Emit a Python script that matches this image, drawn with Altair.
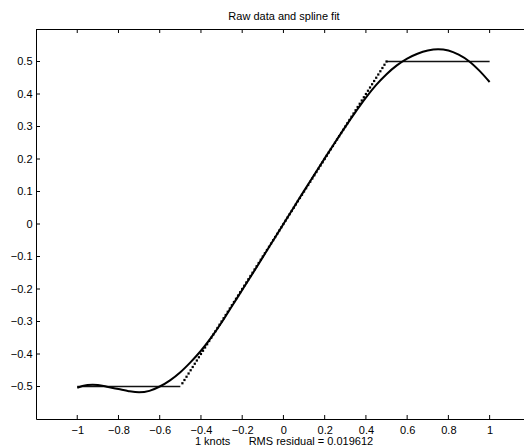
import altair as alt
import pandas as pd

# ---------------- data ----------------
title_text = "Raw data and spline fit"
xlabel_text = "1 knots\u00a0\u00a0\u00a0\u00a0\u00a0\u00a0RMS residual = 0.019612"

x_ticks = [-1, -0.8, -0.6, -0.4, -0.2, 0, 0.2, 0.4, 0.6, 0.8, 1]
y_ticks = [-0.5, -0.4, -0.3, -0.2, -0.1, 0, 0.1, 0.2, 0.3, 0.4, 0.5]

# raw data: flat parts (drawn solid) and the ramp samples (drawn as dots)
flat_x = [-1.0, -0.5, 0.5, 1.0]
flat_y = [-0.5, -0.5, 0.5, 0.5]
flat_seg = ["low", "low", "high", "high"]

ramp_x = [-0.49, -0.48, -0.47, -0.46, -0.45, -0.44, -0.43, -0.42, -0.41, -0.40,
          -0.39, -0.38, -0.37, -0.36, -0.35, -0.34, -0.33, -0.32, -0.31, -0.30,
          -0.29, -0.28, -0.27, -0.26, -0.25, -0.24, -0.23, -0.22, -0.21, -0.20,
          -0.19, -0.18, -0.17, -0.16, -0.15, -0.14, -0.13, -0.12, -0.11, -0.10,
          -0.09, -0.08, -0.07, -0.06, -0.05, -0.04, -0.03, -0.02, -0.01, 0.00,
          0.01, 0.02, 0.03, 0.04, 0.05, 0.06, 0.07, 0.08, 0.09, 0.10,
          0.11, 0.12, 0.13, 0.14, 0.15, 0.16, 0.17, 0.18, 0.19, 0.20,
          0.21, 0.22, 0.23, 0.24, 0.25, 0.26, 0.27, 0.28, 0.29, 0.30,
          0.31, 0.32, 0.33, 0.34, 0.35, 0.36, 0.37, 0.38, 0.39, 0.40,
          0.41, 0.42, 0.43, 0.44, 0.45, 0.46, 0.47, 0.48, 0.49, 0.50]
ramp_y = [-0.49, -0.48, -0.47, -0.46, -0.45, -0.44, -0.43, -0.42, -0.41, -0.40,
          -0.39, -0.38, -0.37, -0.36, -0.35, -0.34, -0.33, -0.32, -0.31, -0.30,
          -0.29, -0.28, -0.27, -0.26, -0.25, -0.24, -0.23, -0.22, -0.21, -0.20,
          -0.19, -0.18, -0.17, -0.16, -0.15, -0.14, -0.13, -0.12, -0.11, -0.10,
          -0.09, -0.08, -0.07, -0.06, -0.05, -0.04, -0.03, -0.02, -0.01, 0.00,
          0.01, 0.02, 0.03, 0.04, 0.05, 0.06, 0.07, 0.08, 0.09, 0.10,
          0.11, 0.12, 0.13, 0.14, 0.15, 0.16, 0.17, 0.18, 0.19, 0.20,
          0.21, 0.22, 0.23, 0.24, 0.25, 0.26, 0.27, 0.28, 0.29, 0.30,
          0.31, 0.32, 0.33, 0.34, 0.35, 0.36, 0.37, 0.38, 0.39, 0.40,
          0.41, 0.42, 0.43, 0.44, 0.45, 0.46, 0.47, 0.48, 0.49, 0.50]

# spline fit
spline_x = [-1.0, -0.975, -0.95, -0.925, -0.9, -0.85, -0.8, -0.75, -0.7, -0.65,
            -0.6, -0.55, -0.5, -0.45, -0.4, -0.35, -0.3, -0.25, -0.2, -0.15,
            -0.1, -0.05, 0.0, 0.05, 0.1, 0.15, 0.2, 0.25, 0.3, 0.35,
            0.4, 0.45, 0.5, 0.55, 0.6, 0.65, 0.7, 0.75, 0.8, 0.85,
            0.9, 0.95, 1.0]
spline_y = [-0.504, -0.4985, -0.4955, -0.4945, -0.4955, -0.5015, -0.508, -0.5145, -0.518, -0.5135,
            -0.500, -0.481, -0.456, -0.425, -0.390, -0.349, -0.303, -0.253, -0.203, -0.153,
            -0.102, -0.051, 0.000, 0.051, 0.102, 0.152, 0.202, 0.251, 0.299, 0.345,
            0.389, 0.428, 0.461, 0.488, 0.509, 0.524, 0.534, 0.538, 0.534, 0.521,
            0.501, 0.472, 0.437]

# ---------------- chart ----------------
FONT = "Liberation Sans"
W, H = 488, 390

xs = alt.Scale(domain=[-1.2, 1.1667], nice=False, zero=False)
ys = alt.Scale(domain=[-0.6, 0.6], nice=False, zero=False)

x_axis = alt.Axis(values=x_ticks, format="~g", ticks=False, tickSize=0, domain=True,
                  domainColor="black", domainWidth=1, labelFont=FONT, labelFontSize=11,
                  labelColor="black", labelPadding=5, grid=False, title=None,
                  labelFlush=False, labelOverlap=False)
y_axis = alt.Axis(values=y_ticks, format="~g", ticks=False, tickSize=0, domain=True,
                  domainColor="black", domainWidth=1, labelFont=FONT, labelFontSize=11,
                  labelColor="black", labelPadding=4, grid=False, title=None,
                  labelFlush=False, labelOverlap=False)

spline_df = pd.DataFrame({"x": spline_x, "y": spline_y})
flat_df = pd.DataFrame({"x": flat_x, "y": flat_y, "seg": flat_seg})
ramp_df = pd.DataFrame({"x": ramp_x, "y": ramp_y})
xt_df = pd.DataFrame({"x": x_ticks})
yt_df = pd.DataFrame({"y": y_ticks})

flat = alt.Chart(flat_df).mark_line(color="#111111", strokeWidth=1.7).encode(
    x=alt.X("x:Q", scale=xs, axis=x_axis),
    y=alt.Y("y:Q", scale=ys, axis=y_axis),
    detail="seg:N",
)

ramp = alt.Chart(ramp_df).mark_square(color="black", size=5, opacity=1).encode(
    x=alt.X("x:Q", scale=xs, axis=x_axis),
    y=alt.Y("y:Q", scale=ys, axis=y_axis),
)

spline = alt.Chart(spline_df).mark_line(color="black", strokeWidth=2,
                                        interpolate="monotone").encode(
    x=alt.X("x:Q", scale=xs, axis=x_axis),
    y=alt.Y("y:Q", scale=ys, axis=y_axis),
)

bottom_ticks = alt.Chart(xt_df).mark_rule(color="black", strokeWidth=1).encode(
    x=alt.X("x:Q", scale=xs, axis=x_axis), y=alt.value(H), y2=alt.value(H - 4))
top_ticks = alt.Chart(xt_df).mark_rule(color="black", strokeWidth=1).encode(
    x=alt.X("x:Q", scale=xs, axis=x_axis), y=alt.value(0), y2=alt.value(4))
left_ticks = alt.Chart(yt_df).mark_rule(color="black", strokeWidth=1).encode(
    y=alt.Y("y:Q", scale=ys, axis=y_axis), x=alt.value(0), x2=alt.value(4))
top_border = alt.Chart(pd.DataFrame({"a": [0]})).mark_rule(color="black", strokeWidth=1).encode(
    x=alt.value(0), x2=alt.value(W), y=alt.value(0.5))

title = alt.Chart(pd.DataFrame({"s": [title_text]})).mark_text(
    font=FONT, fontSize=11, align="center", baseline="alphabetic", color="black").encode(
    x=alt.value(248), y=alt.value(-9), text="s:N")
xlabel = alt.Chart(pd.DataFrame({"s": [xlabel_text]})).mark_text(
    font=FONT, fontSize=11, align="center", baseline="alphabetic", color="black").encode(
    x=alt.value(248), y=alt.value(416), text="s:N")

chart = alt.layer(
    flat, ramp, spline, bottom_ticks, top_ticks, left_ticks, top_border, title, xlabel
).properties(
    width=W, height=H,
    autosize=alt.AutoSizeParams(type="none"),
    padding={"left": 36, "top": 29, "right": 0, "bottom": 27},
    background="white",
).configure_view(strokeWidth=0)

chart.save("out.html", embed_options={"renderer": "svg", "actions": False})
